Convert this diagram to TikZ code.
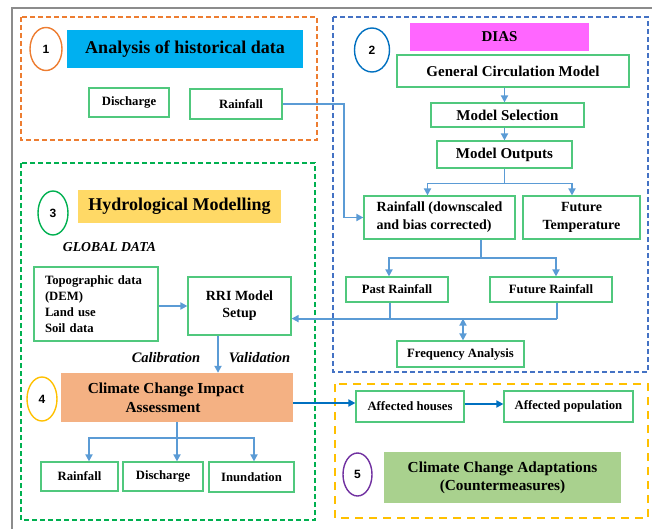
\documentclass[tikz,border=0pt]{standalone}
\usepackage{fontspec}
\setmainfont{Liberation Serif}
\setsansfont{Liberation Sans}
\usetikzlibrary{arrows.meta,shapes.geometric}

\definecolor{framegray}{RGB}{140,140,140}
\definecolor{boxgreen}{RGB}{80,200,125}
\definecolor{linkblue}{RGB}{91,155,213}
\definecolor{darkblue}{RGB}{0,112,192}
\definecolor{zoneorange}{RGB}{237,125,49}
\definecolor{zoneblue}{RGB}{68,114,196}
\definecolor{zonegreen}{RGB}{0,176,80}
\definecolor{zonegold}{RGB}{255,192,0}
\definecolor{numpurple}{RGB}{112,48,160}
\definecolor{headcyan}{RGB}{0,176,240}
\definecolor{headmagenta}{RGB}{255,102,255}
\definecolor{headyellow}{RGB}{255,217,102}
\definecolor{headsalmon}{RGB}{244,177,131}
\definecolor{headgreen}{RGB}{169,209,142}

\begin{document}
\begin{tikzpicture}[x=1pt, y=-1pt,
  box/.style={draw=boxgreen, line width=1.2pt, fill=white, inner sep=0pt, align=center,
    font=\bfseries\fontsize{12.7}{15}\selectfont},
  bigbox/.style={box, font=\bfseries\fontsize{15}{18}\selectfont},
  midbox/.style={box, font=\bfseries\fontsize{14}{18}\selectfont},
  headbox/.style={inner sep=0pt, align=center, font=\bfseries\fontsize{18}{21}\selectfont},
  numc/.style={ellipse, draw, line width=1.4pt, inner sep=0pt,
    font=\sffamily\bfseries\fontsize{12}{14}\selectfont},
  link/.style={draw=linkblue, line width=1.8pt, -{Triangle[length=7pt,width=7pt]}},
  wire/.style={draw=linkblue, line width=1.8pt},
  zone/.style={line width=1.8pt, dash pattern=on 5pt off 3pt},
  note/.style={inner sep=0pt, font=\bfseries\itshape\fontsize{14.5}{17}\selectfont}]

  \useasboundingbox (0,0) rectangle (652,529);

  % outer frame
  \draw[framegray, line width=2.5pt] (12,529) -- (12,8) -- (652,8);

  % dashed zones
  \draw[zone, zoneorange] (21,17) rectangle (317,140);
  \draw[zone, zoneblue] (333,17) rectangle (648,372);
  \draw[zone, zonegreen] (21,163) rectangle (315,520);
  \draw[zone, zonegold, dash pattern=on 8pt off 6pt] (335,384) rectangle (648,518);

  % 1: historical data
  \node[numc, draw=zoneorange, minimum width=32, minimum height=43] (c1) at (46,49) {1};
  \node[headbox, fill=headcyan, minimum width=236, minimum height=38] (hist) at (185,49) {Analysis of historical data};
  \node[box, minimum width=80, minimum height=29] (hdis) at (129,102.5) {Discharge};
  \node[box, minimum width=92, minimum height=30] (hrain) at (236,104) {\hspace*{10pt}Rainfall};

  % 2: DIAS
  \node[numc, draw=darkblue, minimum width=35, minimum height=44] (c2) at (372,50) {2};
  \node[headbox, fill=headmagenta, font=\bfseries\fontsize{15}{18}\selectfont,
    minimum width=179, minimum height=28] (dias) at (499.5,37) {DIAS};
  \node[bigbox, minimum width=232, minimum height=32] (gcm) at (513,71) {General Circulation Model};
  \node[bigbox, minimum width=153, minimum height=24] (msel) at (507.5,115) {Model Selection};
  \node[bigbox, minimum width=135, minimum height=27] (mout) at (504.5,154.5) {Model Outputs};
  \node[midbox, align=left, minimum width=151, minimum height=43] (rdown) at (439.5,217.5) {Rainfall (downscaled\\and bias corrected)};
  \node[midbox, minimum width=117, minimum height=43] (ftemp) at (581.5,217.5) {Future\\Temperature};
  \node[box, minimum width=102, minimum height=25] (past) at (397,289.5) {Past Rainfall};
  \node[box, minimum width=122, minimum height=25] (fut) at (551,289.5) {Future Rainfall};
  \node[box, minimum width=127, minimum height=26] (freq) at (460.5,354) {Frequency Analysis};

  % 3: hydrological modelling
  \node[numc, draw=zonegreen, minimum width=30, minimum height=44] (c3) at (53,213) {3};
  \node[headbox, fill=headyellow, minimum width=203, minimum height=33] (hydro) at (179.5,206.5) {Hydrological Modelling};
  \node[note, font=\bfseries\itshape\fontsize{13.7}{16}\selectfont] (glob) at (109.5,247) {GLOBAL DATA};
  \node[box, align=left, text width=102, inner xsep=11pt, minimum height=74, font=\bfseries\fontsize{12.7}{16}\selectfont] (topo) at (96,304)
    {Topographic data\\(DEM)\\Land use\\Soil data};
  \node[midbox, minimum width=103, minimum height=58, font=\bfseries\fontsize{14}{17}\selectfont] (rri) at (239.5,306) {RRI Model\\Setup};
  \node[note] (cal) at (166,358) {Calibration};
  \node[note] (val) at (259.5,358) {Validation};

  % 4: impact assessment
  \node[numc, draw=zonegold, minimum width=30, minimum height=44] (c4) at (42,399) {4};
  \node[headbox, fill=headsalmon, font=\bfseries\fontsize{15.3}{19}\selectfont,
    minimum width=232, minimum height=49] (ccia) at (177,397.5) {Climate Change Impact\hspace*{22pt}\\Assessment\hspace*{28pt}};
  \node[box, minimum width=77, minimum height=29] (irain) at (79.5,476.5) {Rainfall};
  \node[box, minimum width=80, minimum height=29] (idis) at (163,476.5) {Discharge};
  \node[box, minimum width=85, minimum height=30] (iinu) at (251.5,477) {Inundation};

  % 5: adaptations
  \node[box, minimum width=108, minimum height=31] (ahouse) at (410,406.5) {Affected houses};
  \node[box, minimum width=129, minimum height=31] (apop) at (568.5,406.5) {Affected population};
  \node[numc, draw=numpurple, minimum width=29, minimum height=43] (c5) at (357.5,474.5) {5};
  \node[headbox, fill=headgreen, font=\bfseries\fontsize{15.3}{18}\selectfont,
    minimum width=237, minimum height=51] (adapt) at (502.5,477.5) {Climate Change Adaptations\\(Countermeasures)};

  % DIAS chain
  \draw[link] (gcm.south -| mout) -- (msel.north -| mout);
  \draw[link] (msel.south -| mout) -- (mout.north);
  \draw[wire] (mout.south) -- ++(0,15) coordinate (s2);
  \draw[link] (s2) -| ([xshift=-12pt]rdown.north);
  \draw[link] (s2) -| ([xshift=-9.5pt]ftemp.north);
  \draw[wire] ([xshift=41.5pt]rdown.south) -- ++(0,18) coordinate (s2b);
  \draw[link] (s2b) -| ([xshift=-8pt]past.north);
  \draw[link] (s2b) -| ([xshift=5pt]fut.north);

  % historical rainfall into DIAS
  \draw[link] (hrain.east) -- ++(61,0) |- (rdown.west);

  % rainfall back to RRI and frequency analysis
  \draw[wire] ([xshift=6pt]fut.south) -- ++(0,16) coordinate (jn);
  \draw[wire] ([xshift=-7pt]past.south) -- ([xshift=-7pt]past.south |- jn);
  \draw[link] (jn) -- (jn -| rri.east);
  \draw[link, {Triangle[length=7pt,width=7pt]}-{Triangle[length=7pt,width=7pt]}]
    ([xshift=2.5pt]freq.north) -- ([xshift=2.5pt]freq.north |- jn);

  % hydrological model
  \draw[link] (topo.east |- rri.west) -- (rri.west);
  \draw[link] ([xshift=-21.5pt]rri.south) -- ([xshift=-21.5pt]rri.south |- ccia.north);

  % impact outputs
  \draw[wire] (ccia.south) -- ++(0,16) coordinate (s4);
  \draw[link] (s4) -| ([xshift=9.5pt]irain.north);
  \draw[link] (s4) -- (s4 |- idis.north);
  \draw[link] (s4) -| ([xshift=2.5pt]iinu.north);

  % impacts
  \draw[link, draw=darkblue] ([yshift=-5.5pt]ccia.east) -- ([yshift=3.5pt]ahouse.west);
  \draw[link, draw=darkblue] ([yshift=2.5pt]ahouse.east) -- ([yshift=2.5pt]apop.west);

\end{tikzpicture}
\end{document}
